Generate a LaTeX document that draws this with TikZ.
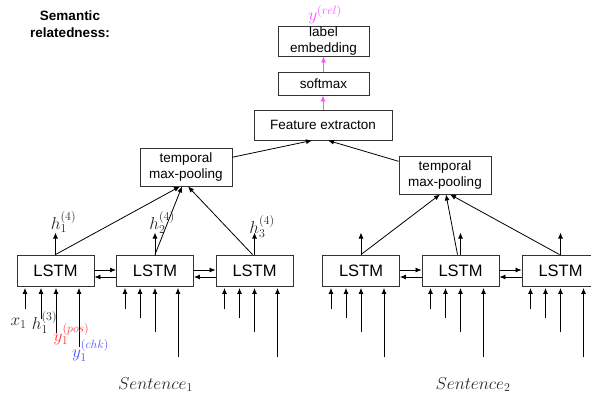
\documentclass[tikz,border=0pt]{standalone}
\usepackage{fontspec}
\setmainfont{Liberation Sans}
\usetikzlibrary{arrows.meta}
\definecolor{relmag}{RGB}{255,80,255}
\definecolor{posred}{RGB}{255,55,55}
\definecolor{chkblue}{RGB}{80,80,255}
\tikzset{
  blk/.style={draw=black!80,line width=0.9pt,inner sep=0pt,align=center,font=\fontsize{13.5}{15.3}\selectfont},
  lstm/.style={draw=black!80,line width=0.9pt,minimum width=77pt,minimum height=31pt,inner sep=0pt,font=\fontsize{16.5}{19}\selectfont},
  arr/.style={-{Latex[length=6pt,width=5pt]},line width=0.8pt},
  marr/.style={-{Latex[length=6pt,width=5pt]},line width=0.9pt,draw=relmag},
  mlab/.style={inner sep=0pt,font=\fontsize{16.8}{19}\selectfont},
  hlab/.style={mlab,text=black!85},
  title/.style={inner sep=0pt,align=center,font=\fontsize{13.5}{17}\selectfont\bfseries},
}
\begin{document}
\begin{tikzpicture}[x=1pt,y=-1pt]
\useasboundingbox (0,0) rectangle (591,394);

% title
\node[title] (ttl) at (70,24.5) {Semantic\\relatedness:};

% top blocks
\node[blk,minimum width=91pt,minimum height=30pt] (emb) at (323.5,41) {label\\embedding};
\node[blk,minimum width=91pt,minimum height=23pt] (soft) at (323.5,83.5) {softmax};
\node[blk,minimum width=138pt,minimum height=30pt] (feat) at (323,125) {Feature extracton};
\node[blk,minimum width=92pt,minimum height=38pt] (pool1) at (186,167) {temporal\\max-pooling};
\node[blk,minimum width=92pt,minimum height=38pt] (pool2) at (445,175) {temporal\\max-pooling};
\node[mlab,text=relmag] (yrel) at (325,14.5) {$y^{(rel)}$};

\draw[marr] (feat.north) -- (feat.north |- soft.south);
\draw[marr] (soft.north) -- (soft.north |- emb.south);
\draw[arr] (pool1) -- ([xshift=-11pt]feat.south);
\draw[arr] (pool2) -- ([xshift=5pt]feat.south);

% LSTM boxes
\foreach \n/\x in {1/55.5,2/155,3/254.5,4/361,5/460.5,6/560.5}
  \node[lstm] (L\n) at (\x,270.5) {LSTM};

% recurrent connections
\foreach \a/\b in {1/2,2/3,4/5,5/6}{
  \draw[arr] ([yshift=0.5pt]L\a.east) -- ([yshift=0.5pt]L\b.west);
  \draw[arr] ([yshift=-6.5pt]L\b.west) -- ([yshift=-6.5pt]L\a.east);
}

% outputs up
\foreach \n in {1,...,6}{
  \path (L\n.north) ++(0,-22) coordinate (o\n);
  \draw[arr] (L\n.north) -- (o\n);
}
\node[hlab] (h14) at (63.5,222) {$h_1^{(4)}$};
\node[hlab] (h24) at (162,222.5) {$h_2^{(4)}$};
\node[hlab] (h34) at (262,226.5) {$h_3^{(4)}$};

% to pooling
\draw[arr] (L1.north) -- ([xshift=-6pt]pool1.south);
\draw[arr] (L2.north) -- ([xshift=-4pt]pool1.south);
\draw[arr] ([xshift=-2pt]L3.north) -- ([xshift=2pt]pool1.south);
\draw[arr] (L4.north) -- ([xshift=-5pt]pool2.south);
\draw[arr] ([xshift=-3pt]L5.north) -- ([xshift=1pt]pool2.south);
\draw[arr] ([xshift=-1pt]L6.north) -- ([xshift=5pt]pool2.south);

% inputs
\foreach \n in {2,...,6}{
  \foreach \k/\dx/\yb in {a/-30/309,b/-15/318,c/0/332,d/23/357}{
    \path (L\n.south) ++(\dx,0) coordinate (t\n\k) ++(0,{\yb-286}) coordinate (s\n\k);
    \draw[arr,shorten >=1.5pt] (s\n\k) -- (t\n\k);
  }
}
\foreach \k/\dx/\yb in {a/-30.5/309,b/-14.5/319,c/0.5/333,d/23.5/347}{
  \path (L1.south) ++(\dx,0) coordinate (t1\k) ++(0,{\yb-286}) coordinate (s1\k);
  \draw[arr,shorten >=1.5pt] (s1\k) -- (t1\k);
}
\node[hlab] (x1) at (18.5,323) {$x_1$};
\node[hlab] (h13) at (44.5,322.5) {$h_1^{(3)}$};
\node[mlab,text=posred] (ypos) at (71.5,334) {$y_1^{(pos)}$};
\node[mlab,text=chkblue] (ychk) at (90.5,350.5) {$y_1^{(chk)}$};

% sentences
\node[hlab] (s1) at (155.5,384.5) {$Sentence_1$};
\node[hlab] (s2) at (473,384.5) {$Sentence_2$};
\end{tikzpicture}
\end{document}
